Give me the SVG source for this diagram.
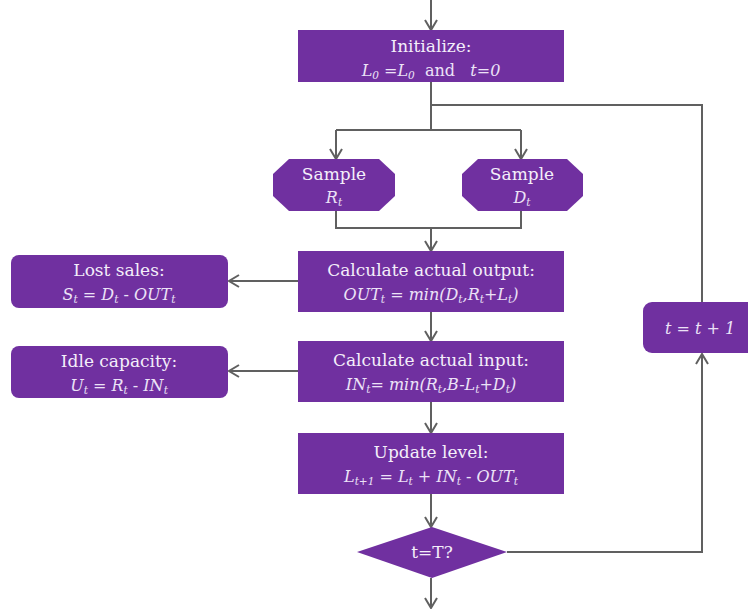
<svg xmlns="http://www.w3.org/2000/svg" width="748" height="609" viewBox="0 0 748 609">
<defs>
<style>
.n{fill:#7030A0;}
.t{font-family:"DejaVu Serif","Liberation Serif",serif;font-size:17px;fill:#f4eefa;text-anchor:middle;}
.m{font-family:"DejaVu Serif","Liberation Serif",serif;font-size:16px;font-style:italic;fill:#ece2f7;text-anchor:middle;white-space:pre;}
.s{font-size:10.5px;}
.up{font-style:normal;}
.c{fill:none;stroke:#606060;stroke-width:2;}
</style>
<marker id="a" markerUnits="userSpaceOnUse" markerWidth="16" markerHeight="16" viewBox="-12 -8 14 16" refX="0" refY="0" orient="auto">
<path d="M-10,-6 L0,0 L-10,6" fill="none" stroke="#606060" stroke-width="2"/>
</marker>
</defs>
<rect width="748" height="609" fill="#ffffff"/>
<g id="connectors">
<path class="c" d="M431,0 V30" marker-end="url(#a)"/>
<path class="c" d="M431,82 V130"/>
<path class="c" d="M336,130 H521"/>
<path class="c" d="M336,130 V159" marker-end="url(#a)"/>
<path class="c" d="M521,130 V159" marker-end="url(#a)"/>
<path class="c" d="M336,211 V228 H521 V211"/>
<path class="c" d="M431,228 V251" marker-end="url(#a)"/>
<path class="c" d="M298,281 H229" marker-end="url(#a)"/>
<path class="c" d="M431,312 V341" marker-end="url(#a)"/>
<path class="c" d="M298,371 H229" marker-end="url(#a)"/>
<path class="c" d="M431,402 V433" marker-end="url(#a)"/>
<path class="c" d="M431,494 V527" marker-end="url(#a)"/>
<path class="c" d="M431,578 V608" marker-end="url(#a)"/>
<path class="c" d="M507,552 H702 V354" marker-end="url(#a)"/>
<path class="c" d="M702,302 V105 H431"/>
</g>
<g id="init">
<rect class="n" x="298" y="30" width="266" height="52"/>
<text class="t" x="431" y="52">Initialize:</text>
<text class="m" x="431" y="76">L<tspan class="s" dy="3">0</tspan><tspan dy="-3"> =L</tspan><tspan class="s" dy="3">0</tspan><tspan class="up" dy="-3">  and   </tspan>t=0</text>
</g>
<g id="sampleR">
<polygon class="n" points="289,159 379,159 395,174 395,196 379,211 289,211 273,196 273,174"/>
<text class="t" x="334" y="180">Sample</text>
<text class="m" x="334" y="203">R<tspan class="s" dy="3">t</tspan></text>
</g>
<g id="sampleD">
<polygon class="n" points="478,159 567,159 583,174 583,196 567,211 478,211 462,196 462,174"/>
<text class="t" x="522" y="180">Sample</text>
<text class="m" x="522" y="203">D<tspan class="s" dy="3">t</tspan></text>
</g>
<g id="output">
<rect class="n" x="298" y="251" width="266" height="61"/>
<text class="t" x="431" y="276">Calculate actual output:</text>
<text class="m" x="431" y="300">OUT<tspan class="s" dy="3">t</tspan><tspan dy="-3"> = min(D</tspan><tspan class="s" dy="3">t</tspan><tspan dy="-3">,R</tspan><tspan class="s" dy="3">t</tspan><tspan dy="-3">+L</tspan><tspan class="s" dy="3">t</tspan><tspan dy="-3">)</tspan></text>
</g>
<g id="lost">
<rect class="n" x="11" y="255" width="217" height="53" rx="8"/>
<text class="t" x="119" y="276">Lost sales:</text>
<text class="m" x="119" y="300">S<tspan class="s" dy="3">t</tspan><tspan dy="-3"> = D</tspan><tspan class="s" dy="3">t</tspan><tspan class="up" dy="-3"> - </tspan>OUT<tspan class="s" dy="3">t</tspan></text>
</g>
<g id="input">
<rect class="n" x="298" y="341" width="266" height="61"/>
<text class="t" x="431" y="366">Calculate actual input:</text>
<text class="m" x="431" y="390">IN<tspan class="s" dy="3">t</tspan><tspan dy="-3">= min(R</tspan><tspan class="s" dy="3">t</tspan><tspan dy="-3">,B-L</tspan><tspan class="s" dy="3">t</tspan><tspan dy="-3">+D</tspan><tspan class="s" dy="3">t</tspan><tspan dy="-3">)</tspan></text>
</g>
<g id="idle">
<rect class="n" x="11" y="346" width="217" height="52" rx="8"/>
<text class="t" x="119" y="367">Idle capacity:</text>
<text class="m" x="119" y="391">U<tspan class="s" dy="3">t</tspan><tspan dy="-3"> = R</tspan><tspan class="s" dy="3">t</tspan><tspan class="up" dy="-3"> - </tspan>IN<tspan class="s" dy="3">t</tspan></text>
</g>
<g id="update">
<rect class="n" x="298" y="433" width="266" height="61"/>
<text class="t" x="431" y="458">Update level:</text>
<text class="m" x="431" y="482">L<tspan class="s" dy="3">t+1</tspan><tspan dy="-3"> = L</tspan><tspan class="s" dy="3">t</tspan><tspan dy="-3"> + IN</tspan><tspan class="s" dy="3">t</tspan><tspan class="up" dy="-3"> - </tspan>OUT<tspan class="s" dy="3">t</tspan></text>
</g>
<g id="decision">
<polygon class="n" points="432,527 507,552 432,578 357,552"/>
<text class="t" x="432" y="558">t=T?</text>
</g>
<g id="increment">
<rect class="n" x="643" y="302" width="118" height="51" rx="9"/>
<text class="m" x="700" y="334">t = t + 1</text>
</g>
</svg>
